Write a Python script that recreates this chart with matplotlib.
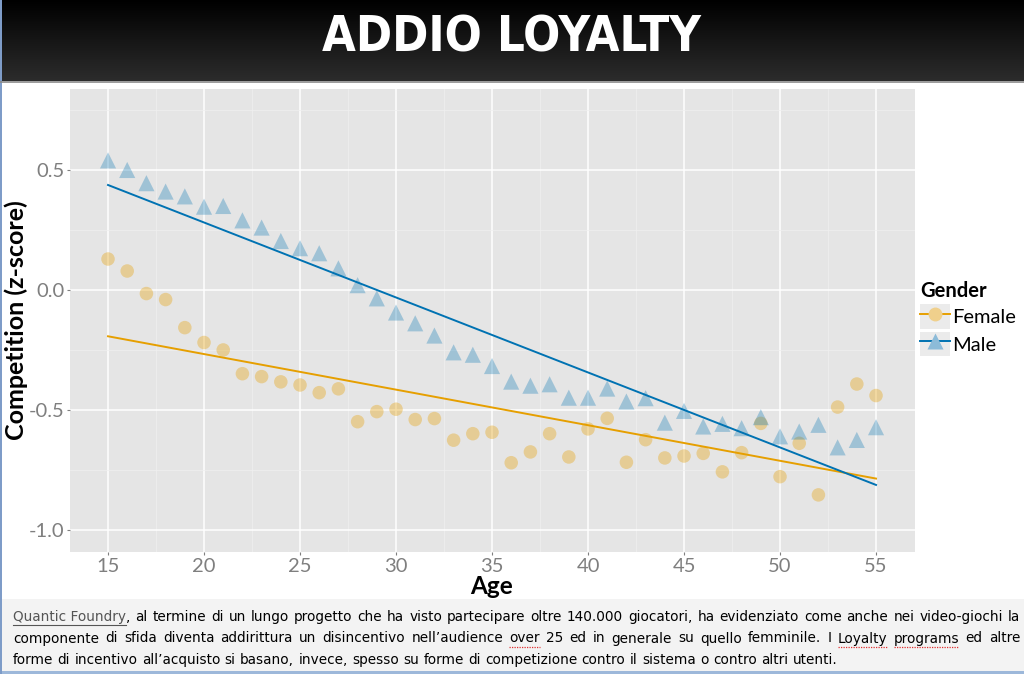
import matplotlib.pyplot as plt
import numpy as np
from matplotlib.lines import Line2D
from matplotlib.patches import Rectangle
from matplotlib.legend_handler import HandlerTuple
from matplotlib.colors import LinearSegmentedColormap

# dati
ages = list(range(15, 56))
female = [0.129, 0.079, -0.015, -0.04, -0.157, -0.219, -0.25, -0.349, -0.361, -0.383,
          -0.396, -0.428, -0.412, -0.549, -0.507, -0.497, -0.54, -0.536, -0.626, -0.599,
          -0.593, -0.72, -0.675, -0.599, -0.696, -0.579, -0.535, -0.718, -0.624, -0.70,
          -0.692, -0.681, -0.758, -0.678, -0.556, -0.778, -0.639, -0.854, -0.488, -0.392,
          -0.44]
male = [0.54, 0.50, 0.445, 0.41, 0.39, 0.347, 0.35, 0.29, 0.26, 0.204,
        0.174, 0.153, 0.09, 0.02, -0.035, -0.094, -0.139, -0.19, -0.26, -0.27,
        -0.317, -0.382, -0.399, -0.393, -0.449, -0.449, -0.411, -0.465, -0.451, -0.553,
        -0.504, -0.569, -0.558, -0.576, -0.53, -0.61, -0.59, -0.562, -0.656, -0.625,
        -0.572]
# rette di regressione (valori a 15 e 55 anni)
fit_ages = [15, 55]
female_fit = [-0.193, -0.786]
male_fit = [0.4375, -0.8125]

x_ticks = [15, 20, 25, 30, 35, 40, 45, 50, 55]
y_ticks = [0.5, 0.0, -0.5, -1.0]

orange = '#E69F00'
blue = '#0072B2'
font = ['Lato', 'DejaVu Sans']

W, H = 1024, 674
fig = plt.figure(figsize=(W / 100, H / 100), dpi=100)
fig.patch.set_facecolor('white')

# barra del titolo
top = fig.add_axes([0, 1 - 81 / H, 1, 81 / H])
grad = np.linspace(0, 1, 100).reshape(-1, 1)
top.imshow(grad, aspect='auto', cmap=LinearSegmentedColormap.from_list('g', ['#000000', '#2c2c2c']),
           extent=[0, 1, 0, 1], origin='upper')
top.set_xlim(0, 1)
top.set_ylim(0, 1)
top.axis('off')
top.text(0.5, (81 - 52) / 81, 'ADDIO LOYALTY', color='white', fontsize=35, fontweight='bold',
         ha='center', va='baseline', family=['Liberation Sans Narrow', 'DejaVu Sans'],
         fontstretch='condensed')
fig.add_artist(Line2D([0, 1], [1 - 81.5 / H] * 2, color='#8a8a8a', linewidth=1.2))

# area didascalia
fig.patches.append(Rectangle((0, 0), 1, 75 / H, transform=fig.transFigure,
                             facecolor='#F3F3F3', edgecolor='none', zorder=0))
fig.patches.append(Rectangle((0, 0), 1, 3 / H, transform=fig.transFigure,
                             facecolor='#9DB8DA', edgecolor='none', zorder=1))
fig.patches.append(Rectangle((0, 0), 2 / W, 1, transform=fig.transFigure,
                             facecolor='#7E9CC8', edgecolor='none', zorder=1))

ax = fig.add_axes([70 / W, 1 - 552 / H, 845 / W, 463 / H])
ax.set_facecolor('#E5E5E5')
ax.set_xlim(13.02, 57.03)
ax.set_ylim(-1.092, 0.8375)
ax.set_xticks(x_ticks)
ax.set_yticks(y_ticks)
ax.set_xticks([17.5, 22.5, 27.5, 32.5, 37.5, 42.5, 47.5, 52.5], minor=True)
ax.set_yticks([0.75, 0.25, -0.25, -0.75], minor=True)
ax.grid(True, which='major', color='white', linewidth=1.1)
ax.grid(True, which='minor', color='#F0F0F0', linewidth=0.5)
ax.set_axisbelow(True)
for s in ax.spines.values():
    s.set_visible(False)
ax.tick_params(which='major', colors='#7F7F7F', labelsize=14.5, length=2.5, width=0.8, pad=1.5)
ax.tick_params(which='minor', length=0)
ax.set_yticklabels([f'{v:.1f}' for v in y_ticks], family=font)
ax.set_xticklabels([str(v) for v in x_ticks], family=font)

ax.scatter(ages, female, s=95, color=orange, alpha=0.35, edgecolors='none', marker='o')
ax.scatter(ages, male, s=135, color=blue, alpha=0.3, edgecolors='none', marker='^')
ax.plot(fit_ages, female_fit, color=orange, linewidth=1.4)
ax.plot(fit_ages, male_fit, color=blue, linewidth=1.4)

ax.set_xlabel('Age', fontsize=17.5, fontweight='bold', family=font)
ax.set_ylabel('Competition (z-score)', fontsize=18, fontweight='bold', family=font)
ax.xaxis.set_label_coords((492 - 70) / 845, (552 - 575) / 463)
ax.yaxis.set_label_coords((28 - 70) / 845, 0.5)

# legenda
bg = lambda: Rectangle((0, 0), 1, 1, facecolor='#EBEBEB', edgecolor='none')
h_f = (bg(), Line2D([], [], color=orange, lw=1.4, marker='o', markersize=10,
                    markerfacecolor='#F0D08C', markeredgecolor='none'))
h_m = (bg(), Line2D([], [], color=blue, lw=1.4, marker='^', markersize=11,
                    markerfacecolor='#8CBBD8', markeredgecolor='none'))
leg = ax.legend([h_f, h_m], ['Female', 'Male'], title='Gender',
                handler_map={tuple: HandlerTuple(ndivide=1)},
                loc='upper left', bbox_to_anchor=(1.006, 0.585), frameon=False,
                prop={'family': font, 'size': 14.5}, handlelength=1.5, handleheight=1.5,
                handletextpad=0.1, labelspacing=0.15, borderaxespad=0, borderpad=0)
leg.get_title().set_fontweight('bold')
leg.get_title().set_fontsize(14.5)
leg.get_title().set_family(font)
leg._legend_box.align = 'left'

# didascalia (giustificata come nel testo originale)
cap_font = ['DejaVu Sans']
cap_size = 9.8
lines = [
    'Quantic_Foundry, al termine di un lungo progetto che ha visto partecipare oltre 140.000 giocatori, ha evidenziato come anche nei video-giochi la',
    'componente di sfida diventa addirittura un disincentivo nell\u2019audience over 25 ed in generale su quello femminile. I Loyalty programs ed altre',
    'forme di incentivo all\u2019acquisto si basano, invece, spesso su forme di competizione contro il sistema o contro altri utenti.',
]
misspelled = ['over', 'Loyalty', 'programs']
x_left, x_right = 13, 1020
y_lines = [617, 638.5, 660]
renderer = fig.canvas.get_renderer()


def put(x, y, s, color='black'):
    t = fig.text(x / W, 1 - y / H, s, color=color, fontsize=cap_size, family=cap_font, va='center')
    return t.get_window_extent(renderer)


def width(s):
    tmp = fig.text(0, 0, s, fontsize=cap_size, family=cap_font)
    w = tmp.get_window_extent(renderer).width
    tmp.remove()
    return w


for k, (line, y) in enumerate(zip(lines, y_lines)):
    words = line.split(' ')
    if k < 2:
        widths = [width(w.replace('_', ' ')) for w in words]
        gap = (x_right - x_left - sum(widths)) / (len(words) - 1)
    else:
        widths = [width(w) for w in words]
        gap = width('a b') - width('ab')
    x = x_left
    for w, wd in zip(words, widths):
        if w.startswith('Quantic_Foundry'):
            bb = put(x, y, 'Quantic Foundry', '#555555')
            fig.add_artist(Line2D([bb.x0 / W, bb.x1 / W], [(bb.y0 - 1) / H] * 2,
                                  color='#555555', linewidth=0.8))
            put(x + width('Quantic Foundry'), y, w[len('Quantic_Foundry'):])
        else:
            bb = put(x, y, w)
            if w in misspelled:
                yy = (bb.y0 - 1) / H
                fig.add_artist(Line2D([x / W, (x + wd) / W], [yy, yy], color='#E03030',
                                      linewidth=0.9, linestyle=(0, (1, 1))))
        x += wd + gap

fig.savefig('out.png', dpi=100)
